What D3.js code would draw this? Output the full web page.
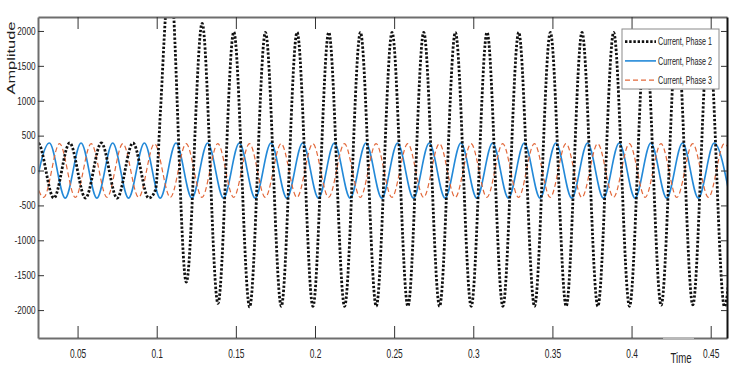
<!DOCTYPE html>
<html>
<head>
<meta charset="utf-8">
<script src="https://cdn.jsdelivr.net/npm/d3@7"></script>
<style>
body { margin: 0; background: #fff; }
svg { display: block; font-family: "Liberation Sans", Arial, sans-serif; }
</style>
</head>
<body>
<svg></svg>
<script>
// tick values
const xTicks = [0.05, 0.1, 0.15, 0.2, 0.25, 0.3, 0.35, 0.4, 0.45];
const yTicks = [-2000, -1500, -1000, -500, 0, 500, 1000, 1500, 2000];
const seriesNames = ["Current, Phase 1", "Current, Phase 2", "Current, Phase 3"];

// extrema of each phase current (time in s, amplitude)
const phase1Time = [0.015, 0.025, 0.035, 0.045, 0.055, 0.065, 0.075, 0.085, 0.095,
  0.0992, 0.1024, 0.1055, 0.1082, 0.1187, 0.1287, 0.1387, 0.1487, 0.1587,
  0.1687, 0.1787, 0.1887, 0.1987, 0.2087, 0.2187, 0.2287, 0.2387, 0.2487, 0.2587,
  0.2687, 0.2787, 0.2887, 0.2987, 0.3087, 0.3187, 0.3287, 0.3387, 0.3487, 0.3587,
  0.3687, 0.3787, 0.3887, 0.3987, 0.4087, 0.4187, 0.4287, 0.4387, 0.4487, 0.4587, 0.4687];
const phase1Value = [-395, 395, -395, 395, -395, 395, -395, 395, -395,
  -280, 864, 2200, 2900, -1600, 2110, -1905, 1985, -1955,
  1980, -1945, 1980, -1945, 1980, -1945, 1980, -1945, 1980, -1945,
  1980, -1945, 1980, -1945, 1980, -1945, 1980, -1945, 1980, -1945,
  1980, -1945, 1980, -1945, 1980, -1930, 1980, -1925, 1980, -1950, 1980];

const phase2Time = [0.0222, 0.0322, 0.0422, 0.0522, 0.0622, 0.0722, 0.0822, 0.0922, 0.1022,
  0.1122, 0.1222, 0.1322, 0.1422, 0.1522, 0.1622, 0.1722, 0.1822, 0.1922, 0.2022,
  0.2122, 0.2222, 0.2322, 0.2422, 0.2522, 0.2622, 0.2722, 0.2822, 0.2922, 0.3022,
  0.3122, 0.3222, 0.3322, 0.3422, 0.3522, 0.3622, 0.3722, 0.3822, 0.3922, 0.4022,
  0.4122, 0.4222, 0.4322, 0.4422, 0.4522, 0.4622];
const phase2Value = [-395, 395, -395, 395, -395, 395, -395, 395, -395,
  395, -395, 395, -395, 395, -395, 395, -395, 395, -395,
  395, -395, 395, -395, 395, -395, 395, -395, 395, -395,
  395, -395, 395, -395, 395, -395, 395, -395, 395, -395,
  395, -395, 395, -395, 395, -395];

const phase3Time = [0.0186, 0.0286, 0.0386, 0.0486, 0.0586, 0.0686, 0.0786, 0.0886, 0.0986,
  0.1086, 0.1186, 0.1286, 0.1386, 0.1486, 0.1586, 0.1686, 0.1786, 0.1886, 0.1986,
  0.2086, 0.2186, 0.2286, 0.2386, 0.2486, 0.2586, 0.2686, 0.2786, 0.2886, 0.2986,
  0.3086, 0.3186, 0.3286, 0.3386, 0.3486, 0.3586, 0.3686, 0.3786, 0.3886, 0.3986,
  0.4086, 0.4186, 0.4286, 0.4386, 0.4486, 0.4586, 0.4686];
const phase3Value = [385, -385, 385, -385, 385, -385, 385, -385, 385,
  -385, 385, -385, 385, -385, 385, -385, 385, -385, 385,
  -385, 385, -385, 385, -385, 385, -385, 385, -385, 385,
  -385, 385, -385, 385, -385, 385, -385, 385, -385, 385,
  -385, 385, -385, 385, -385, 385, -385];

let width = 737, height = 373;
let mLeft = 38, mRight = 727, mTop = 17, mBottom = 338;

let svg = d3.select("svg")
    .attr("width", width)
    .attr("height", height);

let x = d3.scaleLinear().domain([0.025, 0.4603]).range([mLeft, mRight]);
let y = d3.scaleLinear().domain([-2400, 2200]).range([mBottom, mTop]);

svg.append("defs").append("clipPath")
    .attr("id", "plot")
  .append("rect")
    .attr("x", mLeft).attr("y", mTop)
    .attr("width", mRight - mLeft).attr("height", mBottom - mTop);

let line = d3.line()
    .x(d => x(d[0]))
    .y(d => y(d[1]))
    .curve(d3.curveMonotoneX);

let series = [
  { t: phase2Time, v: phase2Value, color: "#2389d8", w: 1.6, dash: null },
  { t: phase3Time, v: phase3Value, color: "#e2683a", w: 1.2, dash: "5,3" },
  { t: phase1Time, v: phase1Value, color: "#111", w: 2.8, dash: "2.4,1.8" }
];

let plot = svg.append("g").attr("clip-path", "url(#plot)");
series.forEach(s => {
  plot.append("path")
      .datum(s.t.map((t, i) => [t, s.v[i]]))
      .attr("fill", "none")
      .attr("stroke", s.color)
      .attr("stroke-width", s.w)
      .attr("stroke-dasharray", s.dash)
      .attr("d", line);
});

// axes, ticks pointing inward like matlab
let xAxis = svg.append("g")
    .attr("transform", "translate(0," + mBottom + ")")
    .call(d3.axisBottom(x).tickValues(xTicks).tickSizeInner(-12).tickSizeOuter(0).tickPadding(10)
      .tickFormat(d => String(d)));
xAxis.selectAll("text")
    .attr("font-size", 13.5)
    .attr("fill", "#222")
    .attr("transform", "scale(0.62,1)");

let yAxis = svg.append("g")
    .attr("transform", "translate(" + mLeft + ",0)")
    .call(d3.axisLeft(y).tickValues(yTicks).tickSizeInner(-6).tickSizeOuter(0).tickPadding(2.5)
      .tickFormat(d => String(d)));
yAxis.selectAll("text")
    .attr("font-size", 10.5)
    .attr("fill", "#222")
    .attr("x", -2.5 / 0.78)
    .attr("transform", "scale(0.78,1)");

svg.append("g")
    .attr("transform", "translate(0," + mTop + ")")
    .call(d3.axisTop(x).tickValues(xTicks).tickSizeInner(-12).tickSizeOuter(0).tickFormat(""));
let rAxis = svg.append("g")
    .attr("transform", "translate(" + mRight + ",0)")
    .call(d3.axisRight(y).tickValues(yTicks).tickSizeInner(-6).tickSizeOuter(0).tickFormat(""));

svg.selectAll(".tick line").attr("stroke", "#333");
svg.selectAll(".domain").attr("stroke", "#6e6e6e").attr("stroke-width", 2);
rAxis.select(".domain").attr("stroke", "#111");

// light patch behind the x label
svg.append("rect")
    .attr("x", 663).attr("y", mBottom - 1)
    .attr("width", 31).attr("height", 2)
    .attr("fill", "#b9b9b9");

svg.append("text")
    .attr("x", 670.5).attr("y", 362.5)
    .attr("font-size", 15)
    .attr("fill", "#222")
    .attr("textLength", 21)
    .attr("lengthAdjust", "spacingAndGlyphs")
    .text("Time");

svg.append("text")
    .attr("transform", "translate(14.5,58) rotate(-90)")
    .attr("text-anchor", "middle")
    .attr("font-size", 11)
    .attr("fill", "#222")
    .attr("textLength", 73)
    .attr("lengthAdjust", "spacingAndGlyphs")
    .text("Amplitude");

// Legend
let legend = svg.append("g");
legend.append("rect")
    .attr("x", 622).attr("y", 29)
    .attr("width", 97).attr("height", 60)
    .attr("fill", "#fff")
    .attr("stroke", "#8a8a8a");

let legendStyle = [series[2], series[0], series[1]];
seriesNames.forEach((name, i) => {
  let ly = 41.7 + i * 19.2;
  legend.append("line")
      .attr("x1", 625).attr("x2", 656)
      .attr("y1", ly).attr("y2", ly)
      .attr("stroke", legendStyle[i].color)
      .attr("stroke-width", legendStyle[i].w)
      .attr("stroke-dasharray", legendStyle[i].dash);
  legend.append("text")
      .attr("x", 658).attr("y", ly + 3.7)
      .attr("font-size", 10.5)
      .attr("fill", "#222")
      .attr("textLength", 54)
      .attr("lengthAdjust", "spacingAndGlyphs")
      .text(name);
});
</script>
</body>
</html>
